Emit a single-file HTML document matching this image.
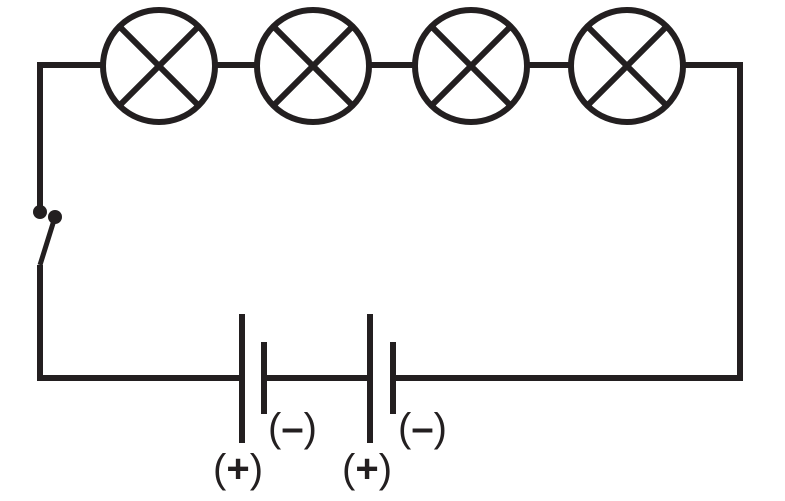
<!DOCTYPE html>
<html><head><style>body{margin:0;background:#fff}svg{display:block}</style></head><body>
<svg width="785" height="501" viewBox="0 0 785 501" xmlns="http://www.w3.org/2000/svg">
<g stroke="#231f20" stroke-width="6" fill="none">
<path d="M40 212 V65 H102 M216 65 H256 M370 65 H414 M528 65 H570 M684 65 H740 V378 H394 M264 378 H370 M242 378 H40 V265"/>
<path d="M40 265 L55 217" stroke-width="5"/>
<circle cx="159" cy="66" r="56"/><circle cx="313" cy="66" r="56"/><circle cx="471" cy="66" r="56"/><circle cx="627" cy="66" r="56"/>
<path d="M119 26 L199 106 M199 26 L119 106 M273 26 L353 106 M353 26 L273 106 M431 26 L511 106 M511 26 L431 106 M587 26 L667 106 M667 26 L587 106"/>
<path d="M242 314 V443 M264 342 V414 M370 314 V443 M393 342 V414"/>
</g>
<circle cx="40" cy="212" r="7" fill="#231f20"/><circle cx="55" cy="217" r="7" fill="#231f20"/>
<g font-family="Liberation Sans, sans-serif" font-size="40" fill="#231f20">
<text x="268" y="441">(<tspan font-weight="bold">–</tspan>)</text>
<text x="398" y="441">(<tspan font-weight="bold">–</tspan>)</text>
<text x="213" y="482">(<tspan font-weight="bold">+</tspan>)</text>
<text x="342" y="482">(<tspan font-weight="bold">+</tspan>)</text>
</g>
</svg>
</body></html>
